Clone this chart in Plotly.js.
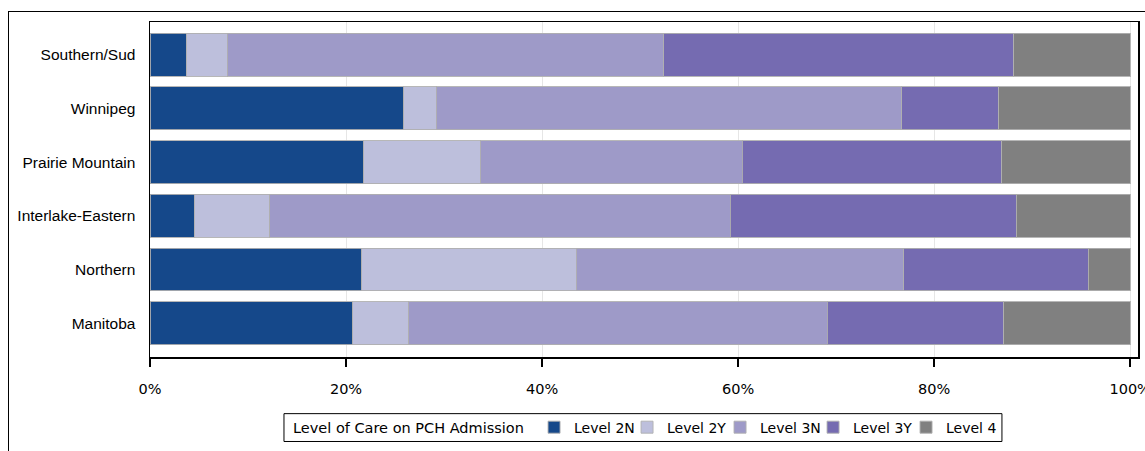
<!DOCTYPE html>
<html>
<head>
<meta charset="utf-8">
<script src="https://cdn.plot.ly/plotly-3.0.1.min.js"></script>
<style>
  html, body { margin: 0; padding: 0; background: #fff; }
  #frame { position: absolute; left: 8px; top: 11px; width: 1300px; height: 600px; border: 1.5px solid #000; box-sizing: border-box; }
  #chart { position: absolute; left: 0; top: 0; width: 1145px; height: 451px; }
</style>
</head>
<body>
<div id="frame"></div>
<div id="chart"></div>
<script>
const regions = ["Southern/Sud", "Winnipeg", "Prairie Mountain", "Interlake-Eastern", "Northern", "Manitoba"];
const level2N = [3.7, 25.9, 21.8, 4.5, 21.6, 20.7];
const level2Y = [4.2, 3.3, 11.9, 7.7, 21.9, 5.7];
const level3N = [44.5, 47.5, 26.7, 47.0, 33.4, 42.7];
const level3Y = [35.7, 9.9, 26.5, 29.2, 18.8, 18.0];
const level4  = [11.9, 13.4, 13.1, 11.6, 4.3, 12.9];
const seriesNames = ["Level 2N", "Level 2Y", "Level 3N", "Level 3Y", "Level 4"];
const xTicks = [0, 20, 40, 60, 80, 100];
const legendTitle = "Level of Care on PCH Admission";

const seriesValues = [level2N, level2Y, level3N, level3Y, level4];
const colors = ["#15488a", "#bdbfdc", "#9e9ac8", "#756bb1", "#808080"];

const traces = seriesValues.map((vals, i) => ({
  type: "bar",
  orientation: "h",
  name: seriesNames[i],
  y: regions,
  x: vals,
  width: 0.8,
  marker: { color: colors[i], line: { color: "rgba(175,175,175,0.9)", width: 1 } },
  hoverinfo: "x+y+name"
}));

const layout = {
  width: 1145,
  height: 451,
  barmode: "stack",
  paper_bgcolor: "rgba(0,0,0,0)",
  plot_bgcolor: "#fff",
  margin: { l: 150, r: 7, t: 22, b: 92 },
  font: { family: "DejaVu Sans, sans-serif", size: 14, color: "#000" },
  xaxis: {
    range: [0, 100.8],
    tickvals: xTicks,
    ticktext: xTicks.map(v => v + "%"),
    ticks: "outside",
    ticklen: 8,
    tickwidth: 1.5,
    tickcolor: "#000",
    showgrid: true,
    gridcolor: "#e6e6e6",
    gridwidth: 1,
    showline: true,
    linecolor: "#000",
    linewidth: 1.5,
    mirror: true,
    zeroline: false,
    ticklabelstandoff: 10,
    ticklabeloverflow: "allow",
    tickfont: { family: "DejaVu Sans, sans-serif", size: 14.5, color: "#000" }
  },
  yaxis: {
    type: "category",
    categoryorder: "array",
    categoryarray: regions,
    range: [5.63, -0.61],
    showgrid: false,
    showline: true,
    linecolor: "#000",
    linewidth: 1.5,
    mirror: true,
    ticks: "",
    ticklabelstandoff: 10,
    tickfont: { family: "Liberation Sans, Arial, sans-serif", size: 15.5, color: "#000" }
  },
  showlegend: true,
  legend: {
    orientation: "h",
    x: 0.3887,
    xanchor: "left",
    y: -0.2107,
    yanchor: "middle",
    borderwidth: 0,
    bgcolor: "rgba(0,0,0,0)",
    traceorder: "normal",
    entrywidth: 48,
    entrywidthmode: "pixels",
    font: { family: "DejaVu Sans, sans-serif", size: 14, color: "#000" }
  },
  shapes: [{
    type: "rect", xref: "paper", yref: "paper",
    x0: 0.1356, x1: 0.8623, y0: -0.1691, y1: -0.2522,
    line: { color: "#000", width: 1 }, fillcolor: "rgba(0,0,0,0)"
  }],
  annotations: [{
    text: legendTitle, xref: "paper", yref: "paper",
    x: 0.1427, xanchor: "left", y: -0.2107, yanchor: "middle",
    showarrow: false,
    font: { family: "DejaVu Sans, sans-serif", size: 14.5, color: "#000" }
  }]
};

Plotly.newPlot("chart", traces, layout, { displayModeBar: false, staticPlot: true });
</script>
</body>
</html>
